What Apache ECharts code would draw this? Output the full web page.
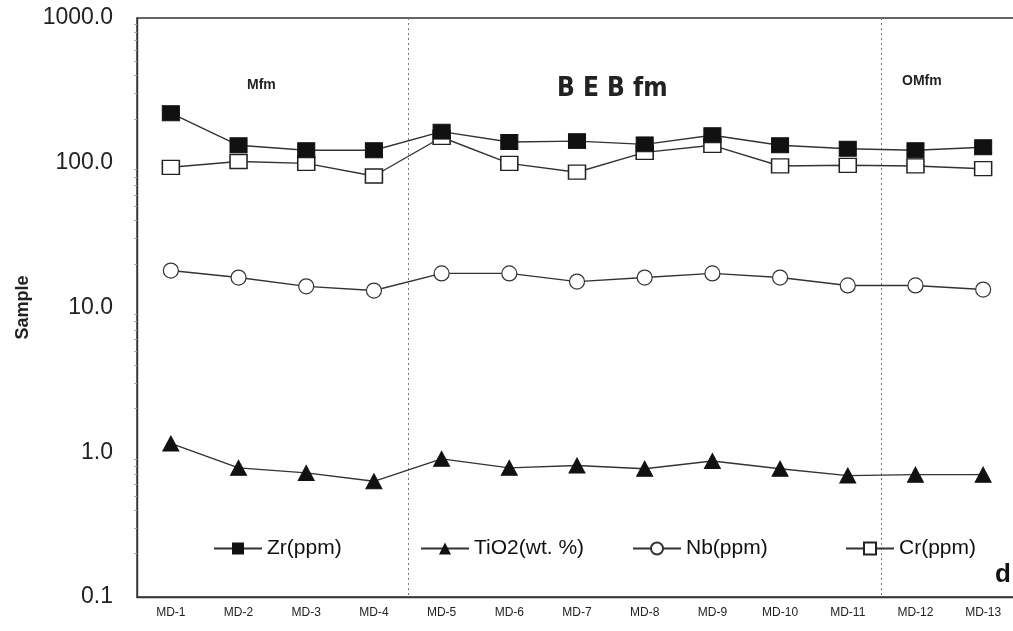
<!DOCTYPE html>
<html>
<head>
<meta charset="utf-8">
<script src="https://cdn.jsdelivr.net/npm/echarts@6/dist/echarts.min.js"></script>
<style>
html,body{margin:0;padding:0;background:#fff;overflow:hidden;width:1013px;height:631px;}
#c{width:1017px;height:631px;}
</style>
</head>
<body>
<div id="c"></div>
<script>
const categories = ['MD-1','MD-2','MD-3','MD-4','MD-5','MD-6','MD-7','MD-8','MD-9','MD-10','MD-11','MD-12','MD-13'];
const zr   = [220, 132, 122, 122, 164, 139, 141, 134, 155, 132, 125, 122, 128];
const tio2 = [1.15, 0.78, 0.72, 0.63, 0.90, 0.78, 0.81, 0.77, 0.87, 0.77, 0.69, 0.70, 0.70];
const nb   = [18.0, 16.1, 14.0, 13.1, 17.2, 17.2, 15.1, 16.1, 17.2, 16.1, 14.2, 14.2, 13.3];
const cr   = [93, 102, 99, 81, 150, 99, 86, 118, 132, 95, 96, 95, 91];
const yTicks = [0.1, 1, 10, 100, 1000];
const seriesNames = ['Zr(ppm)', 'TiO2(wt. %)', 'Nb(ppm)', 'Cr(ppm)'];
const boundaryIdx = [4, 11];

const chart = echarts.init(document.getElementById('c'), null, {renderer: 'canvas'});
const FONT = 'Liberation Sans, Arial, sans-serif';
const lineStyle = {color: '#333', width: 1.4};

function legendAt(name, left) {
  return {
    data: [name], left: left, top: 533, itemWidth: 48, itemHeight: 15,
    textStyle: {fontFamily: FONT, fontSize: 21, color: '#111'}
  };
}

chart.setOption({
  animation: false,
  backgroundColor: '#fff',
  grid: {left: 137, top: 18, right: 0, bottom: 34, show: true, borderColor: '#333', borderWidth: 1.4},
  legend: [legendAt(seriesNames[0], 208), legendAt(seriesNames[1], 415), legendAt(seriesNames[2], 627), legendAt(seriesNames[3], 840)],
  xAxis: {
    type: 'category', data: categories, boundaryGap: true,
    axisLine: {show: true, lineStyle: {color: '#333', width: 1.4}},
    axisTick: {show: false},
    axisLabel: {fontFamily: FONT, fontSize: 12, color: '#222', margin: 10, interval: 0},
    splitLine: {show: true, interval: function (i) { return boundaryIdx.indexOf(i) >= 0; },
      lineStyle: {color: '#777', type: [2, 3], width: 1}}
  },
  yAxis: {
    type: 'log', logBase: 10, min: yTicks[0], max: yTicks[yTicks.length - 1],
    name: 'Sample', nameLocation: 'middle', nameGap: 105, nameRotate: 90,
    nameTextStyle: {fontFamily: FONT, fontSize: 18, fontWeight: 'bold', color: '#222'},
    axisLine: {show: true, lineStyle: {color: '#333', width: 1.4}},
    axisTick: {show: false},
    minorTick: {show: true, splitNumber: 9, length: 3, lineStyle: {color: '#aaa'}},
    splitLine: {show: false},
    axisLabel: {fontFamily: FONT, fontSize: 23, color: '#222', margin: 24,
      formatter: function (v) { return Number(v).toFixed(1); }}
  },
  series: [
    {name: seriesNames[3], type: 'line', data: cr, symbol: 'rect', symbolSize: [17, 14],
      itemStyle: {color: '#fff', borderColor: '#222', borderWidth: 1.4}, lineStyle: lineStyle, z: 2},
    {name: seriesNames[0], type: 'line', data: zr, symbol: 'rect', symbolSize: [17, 15],
      itemStyle: {color: '#111', borderColor: '#111'}, lineStyle: lineStyle, z: 3},
    {name: seriesNames[2], type: 'line', data: nb, symbol: 'circle', symbolSize: 15,
      itemStyle: {color: '#fff', borderColor: '#333', borderWidth: 1.2}, lineStyle: lineStyle, z: 2},
    {name: seriesNames[1], type: 'line', data: tio2, symbol: 'triangle', symbolSize: [16, 15],
      itemStyle: {color: '#111', borderColor: '#111'}, lineStyle: lineStyle, z: 2}
  ],
  graphic: [
    {type: 'text', left: 247, top: 78, style: {text: 'Mfm', font: 'bold 14px ' + FONT, fill: '#222'}},
    {type: 'text', left: 557, top: 76, style: {text: 'B E B fm', font: 'bold 26px "DejaVu Sans Condensed", ' + FONT, fill: '#222'}},
    {type: 'text', left: 902, top: 74, style: {text: 'OMfm', font: 'bold 14px ' + FONT, fill: '#222'}},
    {type: 'text', left: 995, top: 562, style: {text: 'd', font: 'bold 26px ' + FONT, fill: '#111'}}
  ]
});
</script>
</body>
</html>
